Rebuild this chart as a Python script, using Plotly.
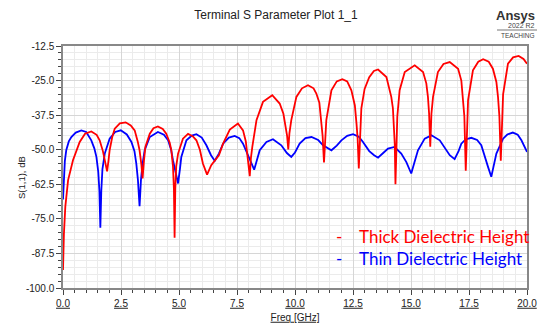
import plotly.graph_objects as go

# ---- data ----
thin_freq = [0.0, 0.03, 0.08, 0.14, 0.25, 0.36, 0.55, 0.79, 1.0, 1.22, 1.35, 1.44, 1.52, 1.57, 1.61, 1.65, 1.70, 1.80,
             2.01, 2.25, 2.49, 2.75, 2.95, 3.08, 3.16, 3.23, 3.30, 3.36, 3.43, 3.52, 3.74, 4.09, 4.35, 4.53, 4.66,
             4.74, 4.86, 4.96, 5.04, 5.10, 5.32, 5.55, 5.75, 5.98, 6.18, 6.38, 6.54, 6.72, 6.90, 7.15, 7.40, 7.60,
             7.76, 8.05, 8.24, 8.48, 8.77, 9.05, 9.41, 9.65, 9.84, 10.0, 10.2, 10.45, 10.71, 11.0, 11.21, 11.57,
             11.8, 12.0, 12.25, 12.5, 12.75, 12.93, 13.2, 13.41, 13.58, 13.8, 14.01, 14.29, 14.58, 14.8, 15.01,
             15.15, 15.3, 15.59, 15.88, 16.24, 16.5, 16.67, 16.88, 17.05, 17.17, 17.35, 17.6, 17.85, 18.03, 18.2,
             18.32, 18.46, 18.58, 18.68, 18.97, 19.15, 19.39, 19.6, 19.76, 20.0]
thin_db = [-68, -60, -54, -50.2, -47, -45.4, -43.8, -43.0, -43.6, -46.6, -49.5, -52.6, -58, -65, -78.2, -65, -57, -51.4,
           -46, -43.6, -43.0, -44.5, -47.2, -50.5, -55, -61, -70.4, -61, -55, -50.2, -45.4, -43.6, -44.6, -46.6, -50,
           -53.8, -58.5, -62.2, -57, -52.6, -46.6, -44.9, -44.4, -45.6, -48.4, -52, -54.0, -51.4, -47.8, -45.6, -45.0,
           -45.8, -47.8, -53.2, -57.2, -50.2, -47.2, -46.2, -48.4, -51.2, -52.6, -51, -47.8, -45.8, -45.4, -46.5,
           -48.4, -50.2, -48.5, -46.6, -45, -44.4, -45.3, -47.2, -50.5, -52, -52.9, -51.2, -49.6, -49, -51.4, -54.5,
           -58.6, -54.5, -50.2, -46, -44.8, -46.6, -50, -52, -53.4, -50.5, -47.8, -46.3, -45.7, -46.5, -48.4, -52.5,
           -56.2, -59.8, -55, -51.4, -46, -44.5, -43.8, -44.6, -46.6, -50.8]

thick_freq = [0.0, 0.02, 0.04, 0.1, 0.22, 0.43, 0.72, 0.95, 1.22, 1.45, 1.58, 1.72, 1.80, 1.90, 1.96, 2.01, 2.12, 2.23,
              2.45, 2.70, 2.92, 3.09, 3.22, 3.30, 3.38, 3.43, 3.49, 3.55, 3.74, 3.90, 4.09, 4.30, 4.45, 4.60, 4.67,
              4.74, 4.78, 4.81, 4.84, 4.88, 4.96, 5.17, 5.39, 5.60, 5.75, 5.90, 6.03, 6.21, 6.39, 6.60, 6.72, 6.90,
              7.19, 7.54, 7.76, 7.88, 7.93, 7.99, 8.05, 8.10, 8.16, 8.34, 8.62, 9.02, 9.34, 9.50, 9.60, 9.66, 9.71,
              9.76, 9.84, 10.06, 10.3, 10.56, 10.8, 10.92, 11.05, 11.13, 11.19, 11.25, 11.30, 11.35, 11.57, 11.8,
              12.04, 12.25, 12.43, 12.58, 12.65, 12.70, 12.75, 12.80, 12.86, 13.0, 13.2, 13.4, 13.58, 13.94, 14.15,
              14.22, 14.27, 14.30, 14.33, 14.37, 14.41, 14.51, 14.73, 15.16, 15.52, 15.66, 15.73, 15.78, 15.83,
              15.88, 15.95, 16.16, 16.4, 16.67, 17.03, 17.17, 17.24, 17.30, 17.36, 17.41, 17.46, 17.67, 17.9, 18.11,
              18.35, 18.53, 18.68, 18.75, 18.81, 18.87, 18.92, 18.97, 19.18, 19.4, 19.64, 19.85, 20.0]
thick_db = [-93.5, -85, -80.3, -70.6, -61, -53.8, -47.2, -44.2, -43.4, -44.6, -46.6, -50.5, -53.8, -57.8, -54, -50.2,
            -45.5, -42.4, -40.5, -40.1, -41.2, -43, -47, -50.2, -55.5, -60.4, -54, -49, -44.2, -42.2, -41.6, -42.5,
            -44.2, -47.5, -50.2, -56, -64, -81.8, -64, -56, -51.4, -46, -44.3, -45.2, -46.6, -50, -55, -59, -55.6,
            -53.3, -52.0, -47.8, -42.7, -40.5, -43, -47, -50.2, -54, -59.6, -53, -49, -39.3, -32.7, -30.3, -33.3,
            -37, -41.7, -45, -49.9, -44, -39.3, -30.9, -27.8, -26.7, -27.8, -29.7, -33, -39.3, -45, -54.6, -45,
            -39.3, -28.5, -25.3, -24.5, -25.3, -28.5, -34, -40.5, -46, -56.8, -44, -35, -28, -23.8, -21.5, -21.0,
            -23.7, -30.9, -35, -41.7, -48, -62.5, -48, -38, -28.5, -21.9, -19.5, -21.9, -26, -30.9, -37, -48.9,
            -37, -30.9, -21.9, -19, -18.3, -20.7, -25, -30.9, -38, -57.6, -40, -32.1, -21.3, -18.2, -17.3, -18.2,
            -20.7, -25.5, -30.9, -38, -54, -38, -30, -18.9, -16.6, -16.1, -17.2, -18.9]

x_ticks = [0.0, 2.5, 5.0, 7.5, 10.0, 12.5, 15.0, 17.5, 20.0]
x_tick_labels = ["0.0", "2.5", "5.0", "7.5", "10.0", "12.5", "15.0", "17.5", "20.0"]
y_ticks = [-100.0, -87.5, -75.0, -62.5, -50.0, -37.5, -25.0, -12.5]
y_tick_labels = ["-100.0", "-87.5", "-75.0", "-62.5", "-50.0", "-37.5", "-25.0", "-12.5"]
series_names = ["Thick Dielectric Height", "Thin Dielectric Height"]

# ---- figure ----
W, H = 545, 325
L, R, T, B = 63, 18, 46, 37
pw, ph = W - L - R, H - T - B

def px_x(px):
    return (px - L) / pw

def px_y(py):
    return (H - B - py) / ph

fig = go.Figure()
fig.add_trace(go.Scatter(x=thin_freq, y=thin_db, mode="lines", name=series_names[1],
                         line=dict(color="#0000FF", width=1.8)))
fig.add_trace(go.Scatter(x=thick_freq, y=thick_db, mode="lines", name=series_names[0],
                         line=dict(color="#FF0000", width=1.8)))

font_main = "Liberation Sans, Arial, sans-serif"
grid_major = "#d6d6d6"
grid_minor = "#ebebeb"

fig.update_layout(
    width=W, height=H,
    margin=dict(l=L, r=R, t=T, b=B, autoexpand=False),
    paper_bgcolor="white", plot_bgcolor="white",
    showlegend=False,
    font=dict(family=font_main, size=10, color="#222"),
    title=dict(text="Terminal S Parameter Plot 1_1", x=276 / W, xanchor="center",
               y=1 - 15 / H, yanchor="middle", yref="container",
               font=dict(family=font_main, size=12, color="#222")),
    xaxis=dict(range=[0, 20], tickvals=x_ticks, ticktext=["<u>%s</u>" % t for t in x_tick_labels],
               automargin=False,
               showgrid=True, gridcolor=grid_major, gridwidth=1,
               ticks="outside", ticklen=5, tickcolor="#444",
               showline=True, linecolor="#888", linewidth=1.5, mirror=True, zeroline=False,
               minor=dict(dtick=0.5, tick0=0, showgrid=True, gridcolor=grid_minor, ticks="outside",
                          ticklen=3, tickcolor="#444"),
               title=dict(text="<u>Freq [GHz]</u>", standoff=6, font=dict(size=10)),
               tickfont=dict(size=10)),
    yaxis=dict(range=[-100, -12.5], tickvals=y_ticks, ticktext=y_tick_labels,
               automargin=False,
               showgrid=True, gridcolor=grid_major, gridwidth=1,
               ticks="outside", ticklen=5, tickcolor="#444",
               showline=True, linecolor="#888", linewidth=1.5, mirror=True, zeroline=False,
               minor=dict(dtick=2.5, tick0=-100, showgrid=True, gridcolor=grid_minor, ticks="outside",
                          ticklen=3, tickcolor="#444"),
               tickfont=dict(size=10)),
)

# y-axis title (placed where the reference shows it)
fig.add_annotation(text="S(1,1), dB", x=px_x(21), y=px_y(178), xref="paper", yref="paper",
                   showarrow=False, textangle=-90, xanchor="center", yanchor="middle",
                   font=dict(family=font_main, size=9.5, color="#222"))

legend_font = "Lato, Carlito, Calibri, sans-serif"
for name, color, py in [(series_names[0], "#FF0000", 236), (series_names[1], "#0000FF", 258)]:
    fig.add_annotation(text="-", x=px_x(339), y=px_y(py), xref="paper", yref="paper",
                       showarrow=False, xanchor="center", yanchor="middle",
                       font=dict(family=legend_font, size=17, color=color))
    fig.add_annotation(text=name, x=px_x(357), y=px_y(py), xref="paper", yref="paper",
                       showarrow=False, xanchor="left", yanchor="middle",
                       font=dict(family=legend_font, size=17, color=color))

# Ansys badge
fig.add_annotation(text="<b>Ansys</b>", x=px_x(537), y=px_y(15), xref="paper", yref="paper",
                   showarrow=False, xanchor="right", yanchor="middle",
                   font=dict(family=font_main, size=13, color="#333"))
fig.add_annotation(text="2022 R2", x=px_x(537), y=px_y(25.5), xref="paper", yref="paper",
                   showarrow=False, xanchor="right", yanchor="middle",
                   font=dict(family=font_main, size=7, color="#444"))
fig.add_annotation(text="TEACHING", x=px_x(537), y=px_y(35.5), xref="paper", yref="paper",
                   showarrow=False, xanchor="right", yanchor="middle",
                   font=dict(family=font_main, size=6.5, color="#444"))
fig.add_shape(type="line", xref="paper", yref="paper", x0=px_x(497), x1=px_x(537),
              y0=px_y(30), y1=px_y(30), line=dict(color="#777", width=1))

fig.write_html("out.html", config={"displayModeBar": False},
               post_script="document.body.style.margin='0px';")
